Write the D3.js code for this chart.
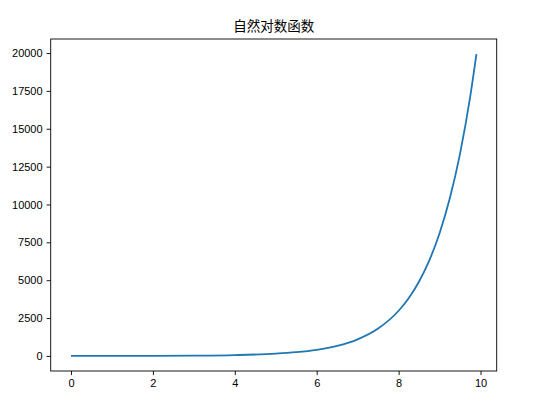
<!DOCTYPE html>
<html>
<head>
<meta charset="utf-8">
<script src="https://cdn.jsdelivr.net/npm/d3@7"></script>
<style>
body { margin: 0; background: #fff; }
svg { display: block; }
</style>
</head>
<body>
<div id="chart"></div>
<script>
// values
var xValues = [0, 1, 2, 3, 4, 5, 5.5, 6, 6.5, 7, 7.5, 8, 8.25, 8.5, 8.75, 9, 9.25, 9.5, 9.75, 9.9];
var yValues = [1, 2.7, 7.4, 20, 55, 148, 245, 403, 665, 1097, 1808, 2981, 3827, 4915, 6311, 8103, 10405, 13360, 17154, 19930];
var xTicks = [0, 2, 4, 6, 8, 10];
var yTicks = [0, 2500, 5000, 7500, 10000, 12500, 15000, 17500, 20000];
var title = '自然对数函数';

var width = 541, height = 405;
var plotLeft = 50.7, plotRight = 496.7, plotTop = 39, plotBottom = 371;

var svg = d3.select('#chart').append('svg')
	.attr('width', width)
	.attr('height', height);

var xscale = d3.scaleLinear()
	.domain([-0.495, 10.395])
	.range([plotLeft, plotRight]);

var yscale = d3.scaleLinear()
	.domain([-995.5, 20926])
	.range([plotBottom, plotTop]);

var data = xValues.map(function (d, i) { return {x: d, y: yValues[i]}; });

var line = d3.line()
	.x(function (d) { return xscale(d.x); })
	.y(function (d) { return yscale(d.y); })
	.curve(d3.curveMonotoneX);

svg.append('path')
	.attr('d', line(data))
	.attr('fill', 'none')
	.attr('stroke', '#1f77b4')
	.attr('stroke-width', 1.8);

svg.append('g')
	.attr('transform', 'translate(0,' + plotBottom + ')')
	.call(d3.axisBottom(xscale).tickValues(xTicks).tickSize(4.1).tickPadding(4.5).tickSizeOuter(0));

svg.append('g')
	.attr('transform', 'translate(' + plotLeft + ',0)')
	.call(d3.axisLeft(yscale).tickValues(yTicks).tickSize(4.1).tickPadding(4).tickSizeOuter(0).tickFormat(d3.format('d')));

svg.selectAll('.domain').remove();
svg.selectAll('.tick line').attr('stroke', '#000').attr('stroke-width', 0.9);
svg.selectAll('.tick text')
	.attr('fill', '#000')
	.attr('font-family', 'Liberation Sans, Arial, sans-serif')
	.attr('font-size', '11px');

// frame
svg.append('rect')
	.attr('x', plotLeft)
	.attr('y', plotTop)
	.attr('width', plotRight - plotLeft)
	.attr('height', plotBottom - plotTop)
	.attr('fill', 'none')
	.attr('stroke', '#000')
	.attr('stroke-width', 0.9);

svg.append('text')
	.attr('x', (plotLeft + plotRight) / 2)
	.attr('y', 31)
	.attr('text-anchor', 'middle')
	.attr('font-family', 'Noto Sans CJK SC, sans-serif')
	.attr('font-size', '13.5px')
	.attr('fill', '#000')
	.text(title);
</script>
</body>
</html>
